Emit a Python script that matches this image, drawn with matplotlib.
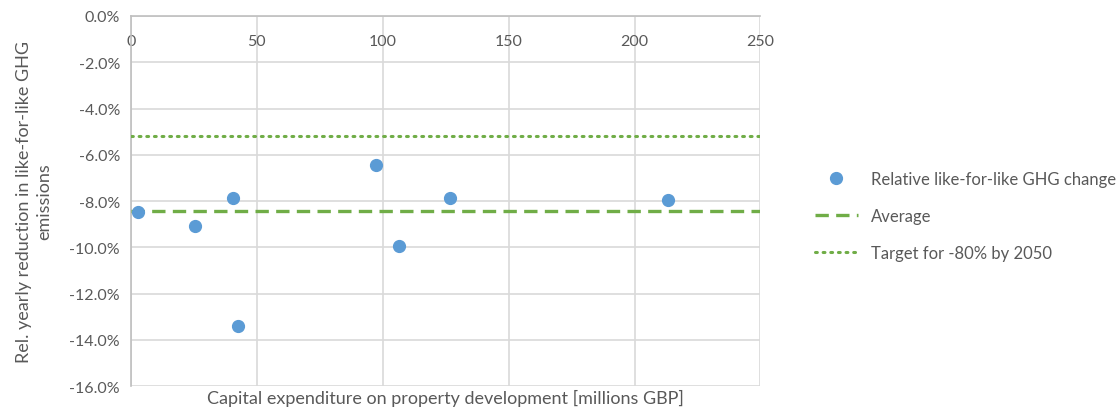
import numpy as np
import matplotlib.pyplot as plt
from matplotlib.ticker import FuncFormatter

plt.rcParams['font.family'] = ['Lato', 'DejaVu Sans']

# capital expenditure (millions GBP) and relative yearly GHG change (%)
capex = [2.8, 25.4, 40.5, 42.5, 97.4, 106.5, 126.8, 213.4]
ghg_change = [-8.48, -9.08, -7.87, -13.4, -6.44, -9.95, -7.87, -7.96]
average = -8.45
target = -5.2   # yearly cut needed for -80% by 2050

xticks = [0, 50, 100, 150, 200, 250]
yticks = [0, -2, -4, -6, -8, -10, -12, -14, -16]

grey_text = '#595959'
grid_col = '#d9d9d9'

fig = plt.figure(figsize=(11.2, 4.14), dpi=100)
ax = fig.add_axes([0.117, 0.065, 0.562, 0.894])

ax.plot(capex, ghg_change, 'o', color='#5B9BD5', markersize=8.5,
        label='Relative like-for-like GHG change', zorder=4)
ax.axhline(average, color='#70AD47', lw=2.4, dashes=(4, 2.2),
           label='Average', zorder=3)
ax.axhline(target, color='#70AD47', lw=2.2, linestyle=(0, (0.6, 1.9)),
           dash_capstyle='round', label='Target for -80% by 2050', zorder=3)

ax.set_xlim(0, 250)
ax.set_ylim(-16, 0)
ax.set_xticks(xticks)
ax.set_yticks(yticks)
ax.yaxis.set_major_formatter(FuncFormatter(lambda v, p: f'{v:.1f}%'))
ax.grid(True, color=grid_col, lw=1.2)
ax.set_axisbelow(True)

for s in ['right', 'bottom']:
    ax.spines[s].set_visible(False)
ax.spines['top'].set_color('#bfbfbf')
ax.spines['left'].set_color('#bfbfbf')
ax.spines['top'].set_linewidth(1.2)
ax.spines['left'].set_linewidth(1.2)

# x axis crosses at 0%, so its labels sit just under the top edge
ax.xaxis.tick_top()
ax.tick_params(axis='x', length=0, pad=-23, labelsize=11.5, labelcolor=grey_text)
ax.tick_params(axis='y', length=0, pad=8, labelsize=11.5, labelcolor=grey_text)

ax.set_xlabel('Capital expenditure on property development [millions GBP]',
              fontsize=13, color=grey_text)
ax.xaxis.set_label_position('bottom')
ax.xaxis.labelpad = 2
ax.set_ylabel('Rel. yearly reduction in like-for-like GHG\nemissions',
              fontsize=13, color=grey_text, linespacing=1.35)
ax.yaxis.labelpad = 12

leg = ax.legend(loc='center left', bbox_to_anchor=(1.062, 0.46), frameon=False,
                fontsize=12, handlelength=2.6, labelspacing=1.25,
                handletextpad=0.8)
for t in leg.get_texts():
    t.set_color(grey_text)

fig.savefig('out.png', dpi=100)
